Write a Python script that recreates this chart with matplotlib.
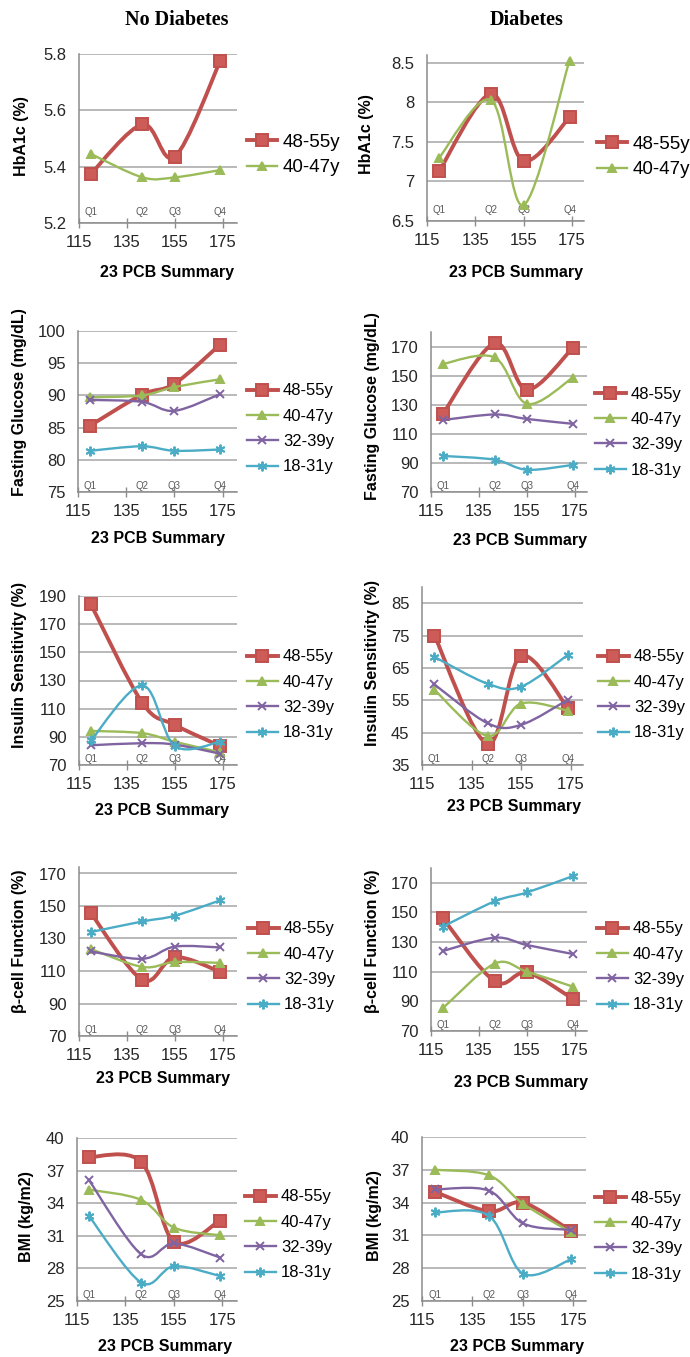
import matplotlib
matplotlib.use('Agg')
import matplotlib.pyplot as plt
import numpy as np
from matplotlib.path import Path
from matplotlib.patches import PathPatch
from matplotlib.lines import Line2D

plt.rcParams['font.family'] = ['Liberation Sans', 'DejaVu Sans']

W, H = 690, 1357

# data
pcb_x = [120, 141.5, 155, 174]
quartiles = ['Q1', 'Q2', 'Q3', 'Q4']
ages = ['48-55y', '40-47y', '32-39y', '18-31y']

hba1c_nd = [[5.375, 5.55, 5.435, 5.775], [5.445, 5.362, 5.362, 5.388]]
hba1c_d = [[7.13, 8.11, 7.26, 7.81], [7.30, 8.03, 6.70, 8.53]]
glucose_nd = [[85.3, 90.1, 91.8, 97.9], [89.7, 90.0, 91.3, 92.5],
              [89.3, 89.0, 87.6, 90.2], [81.4, 82.1, 81.4, 81.6]]
glucose_d = [[123.8, 172.3, 140.3, 168.9], [158.1, 162.5, 130.6, 148.5],
             [119.5, 123.3, 120.2, 116.9], [94.8, 92.2, 85.3, 88.6]]
insulin_nd = [[184, 114, 98.5, 83.5], [94.2, 92.6, 86.5, 79],
              [84, 85.5, 84.5, 78], [87.5, 126.5, 83.5, 86.5]]
insulin_d = [[75, 41.5, 68.7, 52.5], [58.2, 44, 54, 51.8],
             [59.9, 47.9, 47.4, 55.2], [68.4, 60.1, 59.2, 69.1]]
bcell_nd = [[145.5, 104.5, 118.5, 109.5], [123.5, 112.5, 115.5, 115],
            [122, 117.5, 125, 124.5], [134, 140.5, 144, 153.5]]
bcell_d = [[146, 103.5, 109.5, 91.8], [85.5, 115.5, 110, 100],
           [124, 133, 128, 122], [140.5, 157.5, 163.5, 174.5]]
bmi_nd = [[38.25, 37.8, 30.45, 32.4], [35.25, 34.3, 31.75, 31.05],
          [36.1, 29.3, 30.3, 29.0], [32.8, 26.7, 28.2, 27.3]]
bmi_d = [[35.0, 33.2, 34.0, 31.4], [37.0, 36.5, 33.9, 31.3],
         [35.2, 35.1, 32.1, 31.5], [33.1, 32.8, 27.5, 28.8]]

ylabels = ['HbA1c (%)', 'Fasting Glucose (mg/dL)', 'Insulin Sensitivity (%)',
           'β-cell Function (%)', 'BMI (kg/m2)']

# (data, yticks, ylim) per panel, row by row: left = no diabetes, right = diabetes
panels = [
    (hba1c_nd, [5.2, 5.4, 5.6, 5.8], (5.2, 5.8)),
    (hba1c_d, [6.5, 7, 7.5, 8, 8.5], (6.5, 8.6)),
    (glucose_nd, [75, 80, 85, 90, 95, 100], (75, 100)),
    (glucose_d, [70, 90, 110, 130, 150, 170], (70, 180)),
    (insulin_nd, [70, 90, 110, 130, 150, 170, 190], (70, 190)),
    (insulin_d, [35, 45, 55, 65, 75, 85], (35, 90)),
    (bcell_nd, [70, 90, 110, 130, 150, 170], (70, 174)),
    (bcell_d, [70, 90, 110, 130, 150, 170], (70, 180)),
    (bmi_nd, [25, 28, 31, 34, 37, 40], (25, 40)),
    (bmi_d, [25, 28, 31, 34, 37, 40], (25, 40)),
]

# layout in pixels
ax_rects = [(79, 54, 237, 223), (427, 55, 584, 221),
            (78, 331, 237, 492), (431, 332, 587, 492),
            (79, 596, 237, 765), (422, 587, 583, 765),
            (79, 867, 237, 1036), (431, 868, 587, 1031),
            (77, 1138, 237, 1301), (422, 1137, 586, 1301)]
leg_pos = [(247, 155), (597, 157), (247, 429), (595, 432), (247, 695),
           (598, 695), (248, 967), (597, 967), (245, 1235), (595, 1236)]
ylab_pos = [(22, 136), (367, 134), (20, 402), (373, 406), (20, 665),
            (372, 663), (20, 941), (372, 941), (27, 1217), (375, 1216)]
xlab_pos = [(167, 272), (516, 273), (158, 538), (520, 540), (162, 810),
            (514, 807), (163, 1078), (521, 1082), (165, 1347), (517, 1347)]

colors = ['#C0504D', '#9BBB59', '#8064A2', '#4BACC6']
markers = ['s', '^', 'x', (6, 2, 0)]
msizes = [8.5, 6, 6, 7]
lws = [2.8, 1.7, 1.7, 1.7]


def smooth_path(xs, ys):
    # excel-like smoothed line: cubic bezier through the points
    pts = np.column_stack([xs, ys]).astype(float)
    n = len(pts)
    verts = [pts[0]]
    codes = [Path.MOVETO]
    for i in range(n - 1):
        p0 = pts[max(i - 1, 0)]
        p1 = pts[i]
        p2 = pts[i + 1]
        p3 = pts[min(i + 2, n - 1)]
        verts += [p1 + (p2 - p0) / 6, p2 - (p3 - p1) / 6, p2]
        codes += [Path.CURVE4] * 3
    return Path(verts, codes)


fig = plt.figure(figsize=(W / 100, H / 100), dpi=100)

fig.text(177 / W, 1 - 20 / H, 'No Diabetes', family='Liberation Serif',
         weight='bold', fontsize=14.5, ha='center', va='center')
fig.text(527 / W, 1 - 20 / H, 'Diabetes', family='Liberation Serif',
         weight='bold', fontsize=14.5, ha='center', va='center')

for k, (data, yticks, ylim) in enumerate(panels):
    l, t, r, b = ax_rects[k]
    ax = fig.add_axes([l / W, 1 - b / H, (r - l) / W, (b - t) / H])
    row = k // 2
    ax.set_xlim(115, 181 if k % 2 == 0 else 180)
    ax.set_ylim(*ylim)
    ax.set_xticks([115, 135, 155, 175])
    ax.set_yticks(yticks)
    ax.set_yticklabels(['{:g}'.format(v) for v in yticks])
    ax.yaxis.grid(True, color='#a6a6a6', lw=1.1)
    ax.set_axisbelow(True)
    for s in ['top', 'right']:
        ax.spines[s].set_visible(False)
    for s in ['left', 'bottom']:
        ax.spines[s].set_color('#8c8c8c')
        ax.spines[s].set_linewidth(1.1)
    ax.tick_params(axis='x', direction='inout', length=7, width=1,
                   color='#8c8c8c', pad=5, labelsize=12, labelcolor='#262626')
    ax.tick_params(axis='y', length=0, pad=9, labelsize=12,
                   labelcolor='#262626')

    handles = []
    for i, ys in enumerate(data):
        ax.add_patch(PathPatch(smooth_path(pcb_x, ys), fill=False,
                               ec=colors[i], lw=lws[i], joinstyle='round',
                               capstyle='round', zorder=3 + i))
        mfc = colors[i] if i != 0 else '#CD5B57'
        ax.plot(pcb_x, ys, ls='none', marker=markers[i], ms=msizes[i],
                mfc=mfc, mec=colors[i], mew=1.4, zorder=3 + i, clip_on=False)
        handles.append(Line2D([], [], color=colors[i], lw=lws[i],
                              marker=markers[i], ms=msizes[i], mfc=mfc,
                              mec=colors[i], mew=1.4))

    qoff = 8 if row == 0 else 4
    for q, x in zip(quartiles, pcb_x):
        ax.annotate(q, (x, ylim[0]), xytext=(0, qoff),
                    textcoords='offset points', ha='center', va='center',
                    fontsize=7, color='#595959')

    lx, ly = leg_pos[k]
    fs = 13.5 if row == 0 else 12
    ax.legend(handles, ages[:len(data)], loc='center left',
              bbox_to_anchor=(lx / W, 1 - ly / H), bbox_transform=fig.transFigure,
              frameon=False, fontsize=fs, handlelength=1.6 if row == 0 else 1.85,
              handletextpad=0.3, labelspacing=0.45 if row == 0 else 0.62,
              borderpad=0, borderaxespad=0)

    yx, yy = ylab_pos[k]
    fig.text(yx / W, 1 - yy / H, ylabels[row], rotation=90, weight='bold',
             fontsize=11.5, ha='center', va='center')
    xx, xy = xlab_pos[k]
    fig.text(xx / W, 1 - xy / H, '23 PCB Summary', weight='bold',
             fontsize=11.5, ha='center', va='center')

fig.savefig('out.png', dpi=100)
